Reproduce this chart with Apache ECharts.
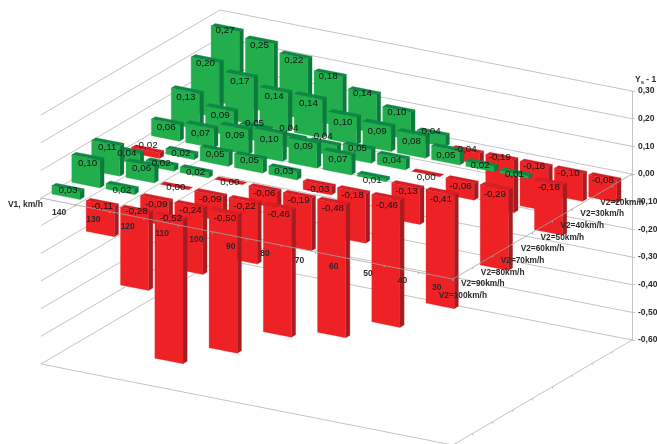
<!DOCTYPE html>
<html>
<head>
<meta charset="utf-8">
<style>html,body{margin:0;padding:0;background:#fff}#chart{width:657px;height:444px}</style>
<script src="https://cdn.jsdelivr.net/npm/echarts@6/dist/echarts.min.js"></script>
</head>
<body>
<div id="chart"></div>
<script>
// Speed categories along the two floor directions
const v1Labels = ['140','130','120','110','100','90','80','70','60','50','40','30'];
const v2Labels = ['V2=20km/h','V2=30km/h','V2=40km/h','V2=50km/h','V2=60km/h','V2=70km/h','V2=80km/h','V2=90km/h','V2=100km/h'];

// Ys - 1 per V2 row, listed from V1 = 140 downwards
const rowV2_20  = [0.27,0.25,0.22,0.18,0.14,0.10,0.04,-0.04,-0.19,-0.16,-0.10,-0.08];
const rowV2_30  = [0.20,0.17,0.14,0.14,0.10,0.09,0.08,0.05,0.02,0.01,-0.18];
const rowV2_40  = [0.13,0.09,0.05,0.04,0.04,0.05,0.04,0.00,-0.06,-0.29];
const rowV2_50  = [0.06,0.07,0.09,0.10,0.09,0.07,0.01,-0.13,-0.41];
const rowV2_60  = [-0.02,0.02,0.05,0.05,0.03,-0.03,-0.18,-0.46];
const rowV2_70  = [0.04,0.02,0.02,0.00,-0.06,-0.19,-0.48];
const rowV2_80  = [0.11,0.06,0.00,-0.09,-0.22,-0.46];
const rowV2_90  = [0.10,0.02,-0.09,-0.24,-0.50];
const rowV2_100 = [0.03,-0.11,-0.28,-0.52];
const rows = [rowV2_20,rowV2_30,rowV2_40,rowV2_50,rowV2_60,rowV2_70,rowV2_80,rowV2_90,rowV2_100];

const zTicks = [0.3,0.2,0.1,0,-0.1,-0.2,-0.3,-0.4,-0.5,-0.6];

// Oblique projection: pixels per V1 step (vertical part) and per V2 step
const U_DROP = 6.75, V_SHIFT_X = 19.9, V_DROP = 11.67;
const BAR_HALF = 0.41, BAR_FRONT = 0.605, BAR_BACK = 0.395;

// Vertical placement of each value label below its bar's top edge, in the row order above
const labelDrop = [
  [2,4,4,2,1.3,3,-1.4,-1.6,0,2.6,2.7,2.4],
  [3.5,6,6.7,6.6,7.7,7,8,7,2,1.4,5],
  [6,6.7,-3.3,-8,-6.7,1.5,4,3,6,7],
  [5,7.7,8,8,5.6,6.6,4,6,6.6],
  [-5,1.7,5,3.5,2,5,4.5,8],
  [3,0,3,0,5,4.5,6],
  [4,5,0,5.4,6,7],
  [6,4,5.4,5,6],
  [2,2.5,1,1]
];

const GRID_LINE = '#c4c4c4';
const AXIS_LINE = 'rgba(165,165,165,0.8)';
const TEXT = '#2b2b2b';
const VALUE_TEXT = '#141414';
const FONT = '"Liberation Sans", Arial, sans-serif';
const GREEN = { front: '#23ae4e', top: '#0e8844', side: '#0c7a3d' };
const RED = { front: '#ee2125', top: '#d41f26', side: '#a61c20' };

// Maps a V1 position (0..12), V2 position (0..9) and value to a pixel,
// using the real category and value axes for the back-right wall.
function project(api, u, v, z) {
  const n = v1Labels.length;
  const idx = Math.min(Math.max(Math.floor(u), 0), n - 1);
  const p = api.coord([idx, z]);
  const band = api.size([1, 0])[0];
  return [
    p[0] + (u - idx - 0.5) * band - v * V_SHIFT_X,
    p[1] - (n - u) * U_DROP + v * V_DROP
  ];
}

const fmt = (x) => (Math.abs(x) < 1e-9 ? 0 : x).toFixed(2).replace('.', ',');
const line = (pts, stroke) => ({ type: 'polyline', shape: { points: pts }, silent: true,
  style: { stroke, lineWidth: 1, fill: null } });
const face = (pts, fill) => ({ type: 'polygon', shape: { points: pts }, silent: true,
  style: { fill, stroke: fill, lineWidth: 0.3 } });
const label = (text, x, y, font, align, fill) => ({ type: 'text', silent: true,
  style: { text, x, y, font, fill: fill || TEXT, align: align || 'center', verticalAlign: 'middle' } });

const barData = [];
rows.forEach((vals, r) => vals.forEach((val, c) => barData.push([c, val, r])));

function renderWalls(params, api) {
  const nu = v1Labels.length, nv = v2Labels.length, z = api.value(1);
  const children = [line([project(api, 0, nv, z), project(api, 0, 0, z), project(api, nu, 0, z)], GRID_LINE)];
  if (params.dataIndex === zTicks.length - 1) {
    children.push(line([project(api, 0, nv, z), project(api, nu, nv, z), project(api, nu, 0, z)], GRID_LINE));
    for (let v = 1; v < nv; v++) {
      const a = project(api, nu, v, z);
      children.push(line([a, [a[0], a[1] + 2]], GRID_LINE));
    }
  }
  return { type: 'group', children };
}

function renderBar(params, api) {
  const c = api.value(0), val = api.value(1), r = api.value(2);
  const top = Math.max(val, 0), bot = Math.min(val, 0);
  const u0 = c + 0.5 - BAR_HALF, u1 = c + 0.5 + BAR_HALF;
  const vf = r + BAR_FRONT, vb = r + BAR_BACK;
  const col = val > 0 ? GREEN : RED;
  const children = [];
  if (top !== bot) {
    children.push(face([project(api,u1,vf,top),project(api,u1,vb,top),project(api,u1,vb,bot),project(api,u1,vf,bot)], col.side));
    children.push(face([project(api,u0,vf,top),project(api,u1,vf,top),project(api,u1,vf,bot),project(api,u0,vf,bot)], col.front));
  }
  children.push(face([project(api,u0,vf,top),project(api,u1,vf,top),project(api,u1,vb,top),project(api,u0,vb,top)], col.top));
  return { type: 'group', children };
}

function renderValueLabel(params, api) {
  const c = api.value(0), val = api.value(1), r = api.value(2);
  const p = project(api, c + 0.5, r + BAR_FRONT, Math.max(val, 0));
  return label(fmt(val), p[0] + r * 0.25, p[1] + labelDrop[r][c], '9.8px ' + FONT, 'center', VALUE_TEXT);
}

function renderAxes(params, api) {
  const nu = v1Labels.length, nv = v2Labels.length;
  const children = [
    line([project(api, 0, nv, 0), project(api, nu, nv, 0), project(api, nu, 0, 0)], AXIS_LINE)
  ];
  const bold = 'bold 8.5px ' + FONT;
  for (let u = 0; u <= nu; u++) {
    const a = project(api, u, nv, 0);
    children.push(line([a, [a[0], a[1] + 2]], AXIS_LINE));
  }
  for (let v = 0; v <= nv; v++) {
    const a = project(api, nu, v, 0);
    children.push(line([a, [a[0], a[1] + 2]], AXIS_LINE));
  }
  v1Labels.forEach((t, i) => {
    const a = project(api, i + 0.5, nv, 0);
    children.push(label(t, a[0] + 1, a[1] + 11.6, bold));
  });
  v2Labels.forEach((t, i) => {
    const a = project(api, nu, i + 0.5, 0);
    children.push(label(t, a[0], a[1] + 22.5, 'bold 8.3px ' + FONT));
  });
  const o = project(api, 0, nv, 0);
  children.push(label('V1, km/h', o[0] + 2, o[1] + 7, bold, 'right'));
  return { type: 'group', children };
}

const chart = echarts.init(document.getElementById('chart'), null, { renderer: 'canvas' });
chart.setOption({
  animation: false,
  backgroundColor: '#fff',
  grid: { left: 220, top: 91, width: 412, height: 249, outerBoundsMode: 'none', containLabel: false },
  xAxis: { type: 'category', data: v1Labels, show: false },
  yAxis: {
    type: 'value', position: 'right', min: -0.6, max: 0.3, interval: 0.1,
    name: '{b|Y}{s|s}{b| - 1}', nameLocation: 'end', nameGap: 6,
    nameTextStyle: { align: 'left', padding: [0, 0, 0, 3],
      rich: {
        b: { fontSize: 8.5, fontWeight: 'bold', fontFamily: FONT, color: TEXT },
        s: { fontSize: 6, fontWeight: 'bold', fontFamily: FONT, color: TEXT, verticalAlign: 'bottom', padding: [4, 0, 0, 0] }
      } },
    splitLine: { show: false },
    axisLine: { show: true, onZero: false, lineStyle: { color: GRID_LINE } },
    axisTick: { show: true, length: 3, lineStyle: { color: GRID_LINE } },
    axisLabel: { margin: 6, fontWeight: 'bold', fontSize: 8.5, fontFamily: FONT,
      color: TEXT, formatter: (x) => fmt(x), align: 'left', hideOverlap: false }
  },
  series: [
    { type: 'custom', name: 'walls', z: 1, silent: true, renderItem: renderWalls,
      data: zTicks.map((z) => [0, z]), encode: { x: 0, y: 1 } },
    { type: 'custom', name: 'bars', z: 2, silent: true, renderItem: renderBar,
      data: barData, encode: { x: 0, y: 1 } },
    { type: 'custom', name: 'axes', z: 3, silent: true, renderItem: renderAxes,
      data: [[0, 0]], encode: { x: 0, y: 1 } },
    { type: 'custom', name: 'values', z: 4, silent: true, renderItem: renderValueLabel,
      data: barData, encode: { x: 0, y: 1 } }
  ]
});
</script>
</body>
</html>
